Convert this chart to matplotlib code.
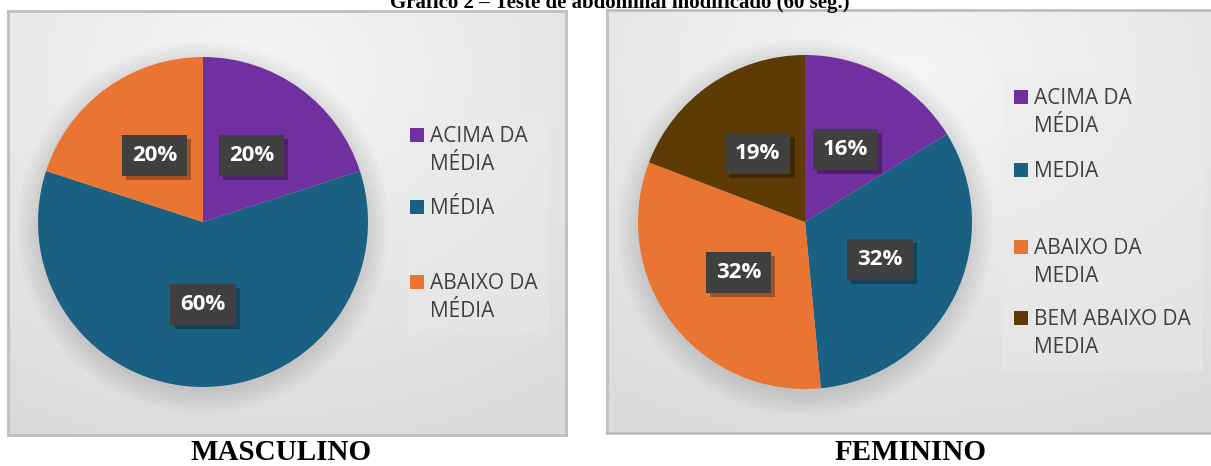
import numpy as np
import matplotlib.pyplot as plt
import matplotlib.patheffects as pe
from matplotlib.patches import Rectangle

W, H = 1211, 466

# data
masc_labels = ['ACIMA DA\nMÉDIA', 'MÉDIA', 'ABAIXO DA\nMÉDIA']
masc_values = [20, 60, 20]
masc_colors = ['#7030A0', '#1A6082', '#EA7431']

fem_labels = ['ACIMA DA\nMÉDIA', 'MEDIA', 'ABAIXO DA\nMEDIA', 'BEM ABAIXO DA\nMEDIA']
fem_values = [16, 32, 32, 19]
fem_colors = ['#7030A0', '#1A6082', '#EA7431', '#5E3A05']

title = 'Gráfico 2 – Teste de abdominal modificado (60 seg.)'
panel_titles = ['MASCULINO', 'FEMININO']

fig = plt.figure(figsize=(W / 100, H / 100), dpi=100)
fig.patch.set_facecolor('white')


def px_axes(x0, y0, x1, y1, **kw):
    # pixel box (top-left origin) -> figure axes
    return fig.add_axes([x0 / W, 1 - y1 / H, (x1 - x0) / W, (y1 - y0) / H], **kw)


def panel_bg(x0, y0, x1, y1, cx, cy):
    ax = px_axes(x0, y0, x1, y1)
    nx, ny = int(x1 - x0), int(y1 - y0)
    xx, yy = np.meshgrid(np.arange(nx), np.arange(ny))
    d = np.sqrt(((xx - cx) / nx) ** 2 + ((yy - cy) / ny) ** 2)
    v = 0.965 - 0.11 * np.clip(d / 0.95, 0, 1)
    img = np.dstack([v, v, v])
    ax.imshow(img, aspect='auto', extent=(0, nx, ny, 0))
    ax.set_xlim(0, nx)
    ax.set_ylim(ny, 0)
    ax.set_xticks([])
    ax.set_yticks([])
    for s in ax.spines.values():
        s.set_color('#BFBFBF')
        s.set_linewidth(2)
    return ax


def draw_pie(cx, cy, r, values, colors):
    ax = px_axes(cx - r, cy - r, cx + r, cy + r)
    ax.set_facecolor('none')
    # soft shadow under the pie
    for k in range(6):
        ax.add_patch(plt.Circle((0.0, -0.03), 1.0 + 0.025 * k, color='black',
                                alpha=0.02, lw=0, zorder=0, clip_on=False))
    wedges, _, autotexts = ax.pie(values, colors=colors, startangle=90, counterclock=False,
                                  radius=1, autopct='%d%%', pctdistance=0.5,
                                  wedgeprops=dict(linewidth=0))
    for t in autotexts:
        t.set_color('white')
        t.set_fontsize(16)
        t.set_fontweight('bold')
        t.set_fontfamily('Open Sans')
        t.set_bbox(dict(boxstyle='square,pad=0.45', facecolor='#404040', edgecolor='none'))
        t.get_bbox_patch().set_path_effects([
            pe.SimplePatchShadow(offset=(3, -3), shadow_rgbFace='black', alpha=0.3),
            pe.Normal()])
    ax.set_xlim(-1, 1)
    ax.set_ylim(-1, 1)
    ax.set_aspect('equal')
    ax.axis('off')
    return ax


def draw_legend(box, sq_x, txt_x, ys, labels, colors):
    x0, y0, x1, y1 = box
    fig.patches.append(Rectangle((x0 / W, 1 - y1 / H), (x1 - x0) / W, (y1 - y0) / H,
                                 transform=fig.transFigure, facecolor='#EBEBEB',
                                 edgecolor='none', alpha=0.45, zorder=1))
    for y, lab, c in zip(ys, labels, colors):
        fig.patches.append(Rectangle((sq_x / W, 1 - (y + 7) / H), 14 / W, 14 / H,
                                     transform=fig.transFigure, facecolor=c,
                                     edgecolor='none', zorder=2))
        fig.text(txt_x / W, 1 - (y - 9) / H, lab, fontsize=15, family='Open Sans',
                 color='#404040', va='top', ha='left', linespacing=1.42, zorder=3)


# left panel
panel_bg(8, 11, 566, 435, 250, 60)
draw_pie(203, 222, 165, masc_values, masc_colors)
draw_legend((407, 113, 549, 335), 410, 430, [135, 207, 282], masc_labels, masc_colors)

# right panel
panel_bg(607, 10, 1215, 433, 300, 60)
draw_pie(805, 222, 167, fem_values, fem_colors)
draw_legend((1002, 73, 1203, 371), 1014, 1034, [97, 170, 247, 318], fem_labels, fem_colors)

fig.text(620 / W, 1 - 3 / H, title, ha='center', va='center', fontsize=15,
         family='Liberation Serif', fontweight='bold')
fig.text(281 / W, 1 - 452 / H, panel_titles[0], ha='center', va='center', fontsize=21,
         family='Liberation Serif', fontweight='bold')
fig.text(911 / W, 1 - 452 / H, panel_titles[1], ha='center', va='center', fontsize=21,
         family='Liberation Serif', fontweight='bold')

fig.savefig('out.png', dpi=100)
